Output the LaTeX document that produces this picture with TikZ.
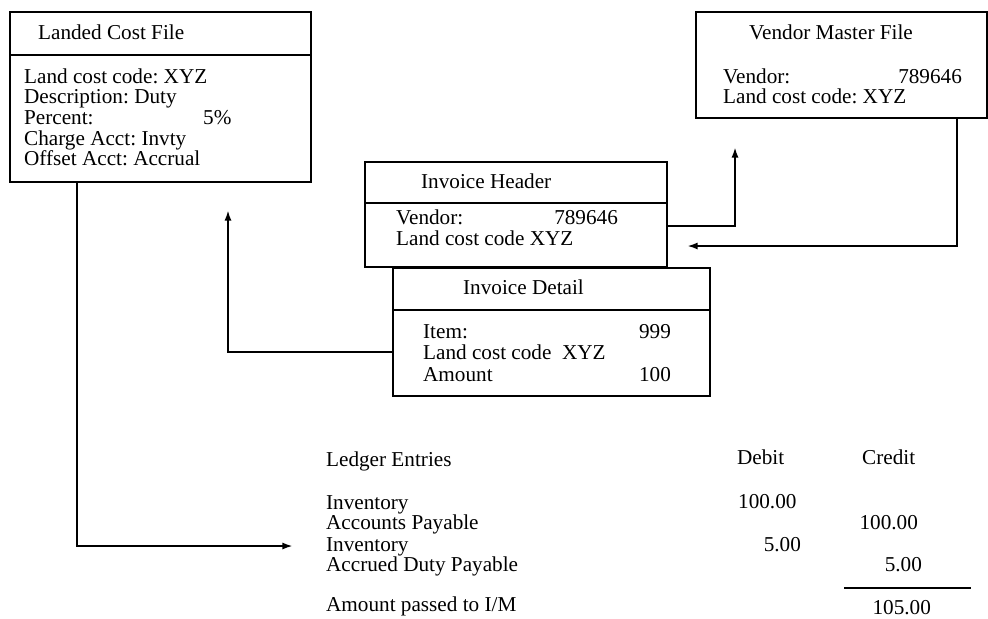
\documentclass[tikz,border=0pt]{standalone}
\usepackage{fontspec}
\setmainfont{Liberation Serif}
\frenchspacing
\usetikzlibrary{arrows.meta}

\begin{document}
\begin{tikzpicture}[x=0.566pt, y=-0.566pt, line width=1.3pt,
          filebox/.style = {draw, rectangle, anchor=north west,
            inner sep=0pt, outer sep=0pt},
          txt/.style = {anchor=base west, inner sep=0pt,
            font=\fontsize{12}{14}\selectfont},
          num/.style = {txt, anchor=base east},
          link/.style = {-{Latex[length=6pt,width=4pt]}}]
        \useasboundingbox (0,0) rectangle (988,618);

        % files
        \node[filebox, minimum width=170.4pt, minimum height=96.2pt] (landed) at (10,12) {};
        \node[filebox, minimum width=164.7pt, minimum height=60pt] (vendor) at (696,12) {};
        \node[filebox, minimum width=170.9pt, minimum height=59.4pt] (header) at (365,162) {};
        \node[filebox, minimum width=179.4pt, minimum height=72.5pt] (detail) at (393,268) {};
        \draw ([yshift=-24.3pt]landed.north west) -- ([yshift=-24.3pt]landed.north east);
        \draw ([yshift=-23.2pt]header.north west) -- ([yshift=-23.2pt]header.north east);
        \draw ([yshift=-23.8pt]detail.north west) -- ([yshift=-23.8pt]detail.north east);

        % landed cost file
        \node[txt] (lctitle) at (37,39) {Landed Cost File};
        \node[txt] (lccode) at (23,83) {Land cost code: XYZ};
        \node[txt] (lcdesc) at (23,103.7) {Description: Duty};
        \node[txt] (lcpct) at (23,124.4) {Percent:};
        \node[txt] (lcpctval) at (202,124.4) {5\%};
        \node[txt] (lccharge) at (23,145.1) {Charge Acct: Invty};
        \node[txt] (lcoffset) at (23,165.8) {Offset Acct: Accrual};

        % vendor master file
        \node[txt] (vmtitle) at (748,39) {Vendor Master File};
        \node[txt] (vmvendor) at (722,83) {Vendor:};
        \node[num] (vmvendorval) at (963,83) {789646};
        \node[txt] (vmcode) at (722,103) {Land cost code: XYZ};

        % invoice header
        \node[txt] (ihtitle) at (420,188) {Invoice Header};
        \node[txt] (ihvendor) at (395,224) {Vendor:};
        \node[num] (ihvendorval) at (619,224) {789646};
        \node[txt] (ihcode) at (395,245.5) {Land cost code XYZ};

        % invoice detail
        \node[txt] (idtitle) at (462,294) {Invoice Detail};
        \node[txt] (iditem) at (422,338) {Item:};
        \node[num] (iditemval) at (672,338) {999};
        \node[txt] (idcode) at (422,359) {Land cost code\ \ XYZ};
        \node[txt] (idamount) at (422,381) {Amount};
        \node[num] (idamountval) at (672,381) {100};

        % ledger entries
        \node[txt] (ledger) at (325,466) {Ledger Entries};
        \node[txt] (debit) at (736,464) {Debit};
        \node[txt] (credit) at (861,464) {Credit};
        \node[txt] (inv1) at (325,509) {Inventory};
        \node[txt] (inv1dr) at (737,508) {100.00};
        \node[txt] (ap) at (325,529) {Accounts Payable};
        \node[num] (apcr) at (919,529) {100.00};
        \node[txt] (inv2) at (325,551) {Inventory};
        \node[num] (inv2dr) at (802,551) {5.00};
        \node[txt] (duty) at (325,571) {Accrued Duty Payable};
        \node[num] (dutycr) at (923,571) {5.00};
        \coordinate (sumleft) at (844,588);
        \coordinate (sumright) at (971,588);
        \draw (sumleft) -- (sumright);
        \node[txt] (passed) at (325,611) {Amount passed to I/M};
        \node[num] (passedval) at (932,614) {105.00};

        % connectors
        \coordinate (lcturn) at (77,546);
        \coordinate (ledgerin) at (293,546);
        \draw[link] (landed.south -| lcturn) -- (lcturn) -- (ledgerin);

        \coordinate (idturn) at (228,352);
        \coordinate (landedin) at (228,210);
        \draw[link] (detail.west |- idturn) -- (idturn) -- (landedin);

        \coordinate (ihturn) at (735,226);
        \coordinate (vendorin) at (735,147);
        \draw[link] (header.east |- ihturn) -- (ihturn) -- (vendorin);

        \coordinate (vmturn) at (957,246);
        \coordinate (headerin) at (687,246);
        \draw[link] (vendor.south -| vmturn) -- (vmturn) -- (headerin);
\end{tikzpicture}
\end{document}
